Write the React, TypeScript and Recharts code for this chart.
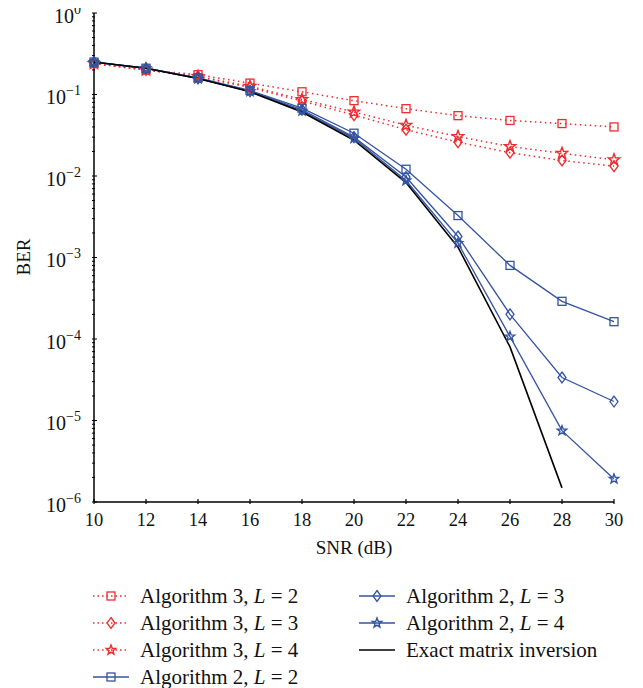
import React from "react";
import { LineChart, Line, XAxis, YAxis } from "recharts";

const snr = [10, 12, 14, 16, 18, 20, 22, 24, 26, 28, 30];
const alg3L2 = [0.24, 0.2, 0.175, 0.138, 0.108, 0.084, 0.067, 0.055, 0.048, 0.044, 0.04];
const alg3L3 = [0.24, 0.2, 0.165, 0.122, 0.083, 0.056, 0.037, 0.026, 0.0193, 0.0155, 0.0132];
const alg3L4 = [0.24, 0.2, 0.167, 0.126, 0.087, 0.061, 0.042, 0.0305, 0.023, 0.019, 0.0158];
const alg2L2 = [0.25, 0.21, 0.16, 0.112, 0.068, 0.0335, 0.0121, 0.00327, 0.0008, 0.00029, 0.000163];
const alg2L3 = [0.25, 0.21, 0.158, 0.11, 0.065, 0.03, 0.0097, 0.00181, 0.000201, 3.37e-5, 1.71e-5];
const alg2L4 = [0.25, 0.21, 0.157, 0.109, 0.063, 0.029, 0.0088, 0.0015, 0.000107, 7.5e-6, 1.92e-6];
const exact = [0.25, 0.21, 0.157, 0.108, 0.061, 0.0275, 0.0083, 0.00134, 8e-5, 1.49e-6, null];

const xTicks = [10, 12, 14, 16, 18, 20, 22, 24, 26, 28, 30];
const decades = [-6, -5, -4, -3, -2, -1, 0];

const rows = snr.map((s, i) => ({
  snr: s,
  a3l2: alg3L2[i],
  a3l3: alg3L3[i],
  a3l4: alg3L4[i],
  a2l2: alg2L2[i],
  a2l3: alg2L3[i],
  a2l4: alg2L4[i],
  exact: exact[i],
}));

// major + minor ticks for the log axis
const yTicks: number[] = [];
decades.forEach((d) => {
  if (d === 0) {
    yTicks.push(1);
    return;
  }
  for (let m = 1; m <= 9; m++) yTicks.push(m * Math.pow(10, d));
});

const RED = "#ee2b2f";
const BLUE = "#3453a2";
const FONT = "'Liberation Serif', 'DejaVu Serif', serif";
const txt = (size: number) => ({ fontFamily: FONT, fontSize: size });

const isMajor = (v: number) => {
  const l = Math.log10(v);
  return Math.abs(l - Math.round(l)) < 1e-6;
};

const Square = ({ cx, cy, color }: any) =>
  cx == null || cy == null ? null : (
    <rect x={cx - 4} y={cy - 4} width={8} height={8} fill="none" stroke={color} strokeWidth={1.3} />
  );

const Diamond = ({ cx, cy, color }: any) =>
  cx == null || cy == null ? null : (
    <path
      d={`M${cx},${cy - 5.5} L${cx + 4},${cy} L${cx},${cy + 5.5} L${cx - 4},${cy} Z`}
      fill="none"
      stroke={color}
      strokeWidth={1.3}
    />
  );

const Star = ({ cx, cy, color, r = 5.5 }: any) => {
  if (cx == null || cy == null) return null;
  const pts: string[] = [];
  for (let k = 0; k < 10; k++) {
    const rad = k % 2 === 0 ? r : r * 0.42;
    const a = -Math.PI / 2 + (k * Math.PI) / 5;
    pts.push(`${cx + rad * Math.cos(a)},${cy + rad * Math.sin(a)}`);
  }
  return <polygon points={pts.join(" ")} fill="none" stroke={color} strokeWidth={1.4} />;
};

const dotFn = (Shape: any, color: string, r?: number) => (props: any) =>
  <Shape key={`m-${props.index}`} cx={props.cx} cy={props.cy} color={color} r={r} />;

const XTickBottom = ({ x, y, payload }: any) => (
  <g>
    <line x1={x} y1={y} x2={x} y2={y - 5} stroke="#000" strokeWidth={1.2} />
    <text x={x} y={y + 22} textAnchor="middle" style={txt(18.5)} fill="#111">
      {payload.value}
    </text>
  </g>
);

const XTickTop = ({ x, y }: any) => (
  <line x1={x} y1={y} x2={x} y2={y + 5} stroke="#000" strokeWidth={1.2} />
);

const YTickLeft = ({ x, y, payload }: any) => {
  const v = payload.value;
  const major = isMajor(v);
  const exp = Math.round(Math.log10(v));
  return (
    <g>
      <line x1={x} y1={y} x2={x + (major ? 5 : 3)} y2={y} stroke="#000" strokeWidth={1} />
      {major && (
        <text x={x - 11} y={y + 9.5} textAnchor="end" style={txt(20)} fill="#111">
          <tspan>10</tspan>
          <tspan dy={-9} style={txt(14)}>
            {exp === 0 ? "0" : "\u2212" + -exp}
          </tspan>
        </text>
      )}
    </g>
  );
};

const YTickRight = ({ x, y, payload }: any) => {
  const major = isMajor(payload.value);
  return <line x1={x} y1={y} x2={x - (major ? 5 : 3)} y2={y} stroke="#000" strokeWidth={1} />;
};

const legendLeft = [
  { label: "3", L: "2", color: RED, dash: "1.5 3", Shape: Square },
  { label: "3", L: "3", color: RED, dash: "1.5 3", Shape: Diamond },
  { label: "3", L: "4", color: RED, dash: "1.5 3", Shape: Star },
  { label: "2", L: "2", color: BLUE, dash: undefined, Shape: Square },
];
const legendRight = [
  { label: "2", L: "3", color: BLUE, dash: undefined, Shape: Diamond },
  { label: "2", L: "4", color: BLUE, dash: undefined, Shape: Star },
];

const Sample = ({ color, dash, Shape }: any) => (
  <svg width={38} height={20} style={{ display: "block" }}>
    <line x1={1} y1={10} x2={37} y2={10} stroke={color} strokeWidth={1.4} strokeDasharray={dash} />
    {Shape && <Shape cx={19} cy={10} color={color} r={5} />}
  </svg>
);

const LegendRow = ({ item }: any) => (
  <div style={{ display: "flex", alignItems: "center", height: 27 }}>
    <Sample color={item.color} dash={item.dash} Shape={item.Shape} />
    <span style={{ marginLeft: 10, whiteSpace: "nowrap" }}>
      Algorithm {item.label}, <i>L</i> = {item.L}
    </span>
  </div>
);

export default function App() {
  return (
    <div style={{ width: 635, marginTop: -8, fontFamily: FONT, color: "#111" }}>
      <LineChart width={635} height={568} data={rows} margin={{ top: 13, right: 29, left: 16, bottom: 16 }}>
        <XAxis
          dataKey="snr"
          type="number"
          domain={[10, 30]}
          ticks={xTicks}
          interval={0}
          tickSize={0}
          tick={(p: any) => <XTickBottom {...p} />}
          axisLine={{ stroke: "#000", strokeWidth: 1.5 }}
          height={50}
          label={(p: any) => {
            const vb = p.viewBox || {};
            return (
              <text x={vb.x + vb.width / 2} y={554} textAnchor="middle" style={txt(19)} fill="#111">
                SNR (dB)
              </text>
            );
          }}
        />
        <XAxis
          xAxisId="top"
          orientation="top"
          dataKey="snr"
          type="number"
          domain={[10, 30]}
          ticks={xTicks}
          interval={0}
          tickSize={0}
          tick={(p: any) => <XTickTop {...p} />}
          axisLine={{ stroke: "#000", strokeWidth: 1.5 }}
          height={0}
        />
        <YAxis
          scale="log"
          type="number"
          domain={[1e-6, 1]}
          allowDataOverflow
          ticks={yTicks}
          interval={0}
          tickSize={0}
          tick={(p: any) => <YTickLeft {...p} />}
          axisLine={{ stroke: "#000", strokeWidth: 1.5 }}
          width={70}
          label={() => (
            <text x={22} y={257} transform="rotate(-90 22 257)" textAnchor="middle" style={txt(19)} fill="#111">
              BER
            </text>
          )}
        />
        <YAxis
          yAxisId="right"
          orientation="right"
          scale="log"
          type="number"
          domain={[1e-6, 1]}
          allowDataOverflow
          ticks={yTicks}
          interval={0}
          tickSize={0}
          tick={(p: any) => <YTickRight {...p} />}
          axisLine={{ stroke: "#000", strokeWidth: 1.5 }}
          width={0}
        />
        <Line dataKey="a3l2" stroke={RED} strokeWidth={1.5} strokeDasharray="1.5 3.5" dot={dotFn(Square, RED)} isAnimationActive={false} />
        <Line dataKey="a3l3" stroke={RED} strokeWidth={1.5} strokeDasharray="1.5 3.5" dot={dotFn(Diamond, RED)} isAnimationActive={false} />
        <Line dataKey="a3l4" stroke={RED} strokeWidth={1.5} strokeDasharray="1.5 3.5" dot={dotFn(Star, RED, 6)} isAnimationActive={false} />
        <Line dataKey="a2l2" stroke={BLUE} strokeWidth={1.3} dot={dotFn(Square, BLUE)} isAnimationActive={false} />
        <Line dataKey="a2l3" stroke={BLUE} strokeWidth={1.3} dot={dotFn(Diamond, BLUE)} isAnimationActive={false} />
        <Line dataKey="a2l4" stroke={BLUE} strokeWidth={1.3} dot={dotFn(Star, BLUE, 5)} isAnimationActive={false} />
        <Line dataKey="exact" stroke="#000" strokeWidth={1.6} dot={false} connectNulls={false} isAnimationActive={false} />
      </LineChart>
      <div style={{ position: "relative", height: 120, fontSize: 21 }}>
        <div style={{ position: "absolute", left: 84, top: 14.5 }}>
          {legendLeft.map((it, i) => (
            <LegendRow key={i} item={it} />
          ))}
        </div>
        <div style={{ position: "absolute", left: 350, top: 14.5 }}>
          {legendRight.map((it, i) => (
            <LegendRow key={i} item={it} />
          ))}
          <div style={{ display: "flex", alignItems: "center", height: 27 }}>
            <Sample color="#000" />
            <span style={{ marginLeft: 10, whiteSpace: "nowrap" }}>Exact matrix inversion</span>
          </div>
        </div>
      </div>
    </div>
  );
}
